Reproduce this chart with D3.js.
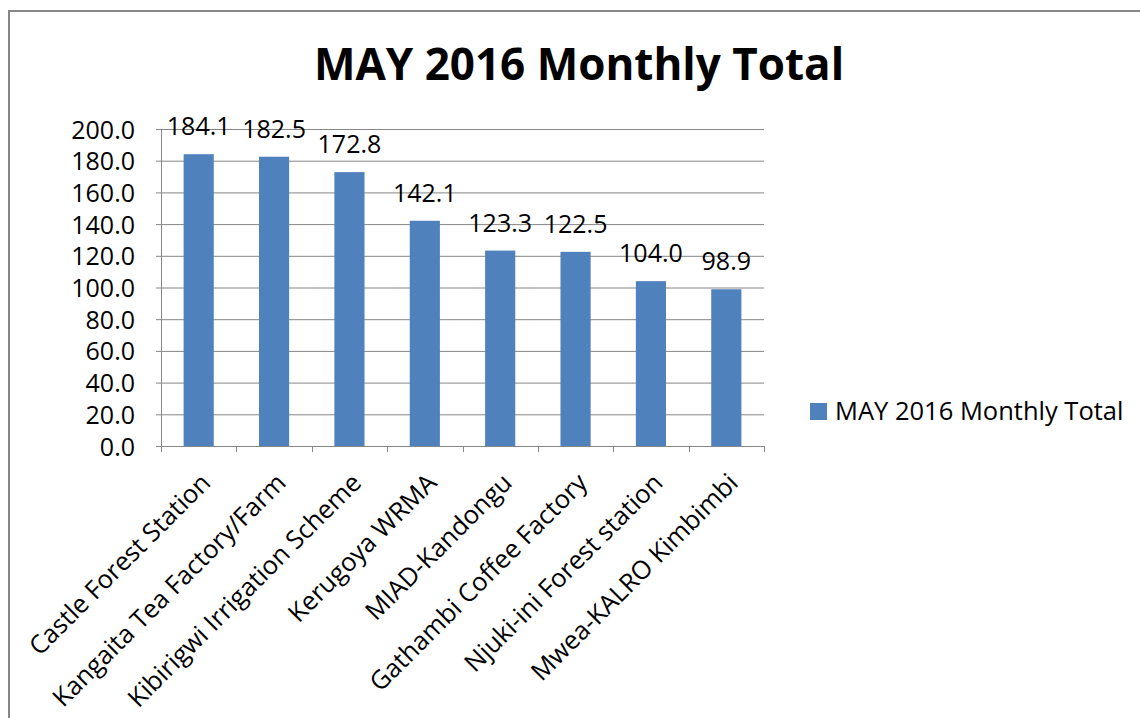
<!DOCTYPE html>
<html lang="en">
<head>
    <meta charset="utf-8">
    <title>MAY 2016 Monthly Total</title>
    <script type="text/javascript" src="https://d3js.org/d3.v7.min.js"></script>
    <style type="text/css">
        body { margin: 0; background: #fff; }
        text { font-family: "Open Sans", sans-serif; fill: #000; }
    </style>
</head>
<body>
<script type="text/javascript">

    // chart values
    var stations = ["Castle Forest Station", "Kangaita Tea Factory/Farm", "Kibirigwi Irrigation Scheme",
        "Kerugoya WRMA", "MIAD-Kandongu", "Gathambi Coffee Factory", "Njuki-ini Forest station",
        "Mwea-KALRO Kimbimbi"];
    var totals = [184.1, 182.5, 172.8, 142.1, 123.3, 122.5, 104.0, 98.9];
    var yTicks = [0, 20, 40, 60, 80, 100, 120, 140, 160, 180, 200];
    var seriesName = "MAY 2016 Monthly Total";

    var width = 1140, height = 718;
    var plotLeft = 161, plotRight = 764, plotTop = 129, plotBottom = 446;
    var barColor = "#4F81BD", gridColor = "#868686";

    var svg = d3.select("body").append("svg")
        .attr("width", width)
        .attr("height", height);

    // chart frame
    svg.append("rect")
        .attr("x", 9).attr("y", 11)
        .attr("width", 1200).attr("height", 800)
        .attr("fill", "none")
        .attr("stroke", gridColor)
        .attr("stroke-width", 2);

    svg.append("text")
        .attr("x", 579).attr("y", 80)
        .attr("text-anchor", "middle")
        .attr("font-size", 44)
        .attr("font-weight", "bold")
        .text(seriesName);

    var x = d3.scaleBand()
        .domain(stations)
        .range([plotLeft, plotRight])
        .paddingInner(0.6)
        .paddingOuter(0.3);

    var y = d3.scaleLinear()
        .domain([0, 200])
        .range([plotBottom, plotTop]);

    // gridlines + y axis
    var yAxis = svg.append("g")
        .attr("transform", "translate(" + plotLeft + ",0)")
        .call(d3.axisLeft(y).tickValues(yTicks).tickFormat(d3.format(".1f"))
            .tickSize(-(plotRight - plotLeft)).tickPadding(10));
    yAxis.select(".domain").remove();
    yAxis.selectAll(".tick line")
        .attr("stroke", gridColor)
        .attr("x1", -5);
    yAxis.selectAll(".tick text")
        .attr("font-size", 25)
        .attr("font-family", "Open Sans")
        .attr("fill", "#000")
        .attr("x", -26)
        .attr("dy", "0.36em");

    svg.append("line")
        .attr("x1", plotLeft + 0.5).attr("x2", plotLeft + 0.5)
        .attr("y1", plotTop).attr("y2", plotBottom)
        .attr("stroke", gridColor);

    // bars
    svg.selectAll(".bar")
        .data(totals)
        .enter()
        .append("rect")
        .attr("class", "bar")
        .attr("x", function(d, i) { return x(stations[i]); })
        .attr("width", x.bandwidth())
        .attr("y", function(d) { return y(d); })
        .attr("height", function(d) { return plotBottom - y(d); })
        .attr("fill", barColor);

    // category axis with boundary ticks
    var bounds = d3.range(stations.length + 1).map(function(i) {
        return plotLeft + i * (plotRight - plotLeft) / stations.length;
    });
    svg.append("line")
        .attr("x1", plotLeft - 5).attr("x2", plotRight)
        .attr("y1", plotBottom + 0.5).attr("y2", plotBottom + 0.5)
        .attr("stroke", gridColor);
    svg.selectAll(".xtick")
        .data(bounds)
        .enter()
        .append("line")
        .attr("x1", function(d) { return Math.round(d) + 0.5; })
        .attr("x2", function(d) { return Math.round(d) + 0.5; })
        .attr("y1", plotBottom).attr("y2", plotBottom + 6)
        .attr("stroke", gridColor);

    svg.selectAll(".xlabel")
        .data(stations)
        .enter()
        .append("text")
        .attr("class", "xlabel")
        .attr("transform", function(d) {
            var cx = x(d) + x.bandwidth() / 2;
            return "translate(" + (cx + 7) + "," + (plotBottom + 32) + ") rotate(-45)";
        })
        .attr("text-anchor", "end")
        .attr("dy", "0.35em")
        .attr("font-size", 25.5)
        .text(function(d) { return d; });

    // value labels
    svg.selectAll(".vlabel")
        .data(totals)
        .enter()
        .append("text")
        .attr("class", "vlabel")
        .attr("x", function(d, i) { return x(stations[i]) + x.bandwidth() / 2; })
        .attr("y", function(d) { return y(d) - 19; })
        .attr("text-anchor", "middle")
        .attr("font-size", 25)
        .text(function(d) { return d3.format(".1f")(d); });

    // legend
    var legend = svg.append("g").attr("transform", "translate(810,403)");
    legend.append("rect")
        .attr("width", 17).attr("height", 17)
        .attr("fill", barColor);
    legend.append("text")
        .attr("x", 25).attr("y", 17)
        .attr("font-size", 25.5)
        .text(seriesName);

</script>
</body>
</html>
